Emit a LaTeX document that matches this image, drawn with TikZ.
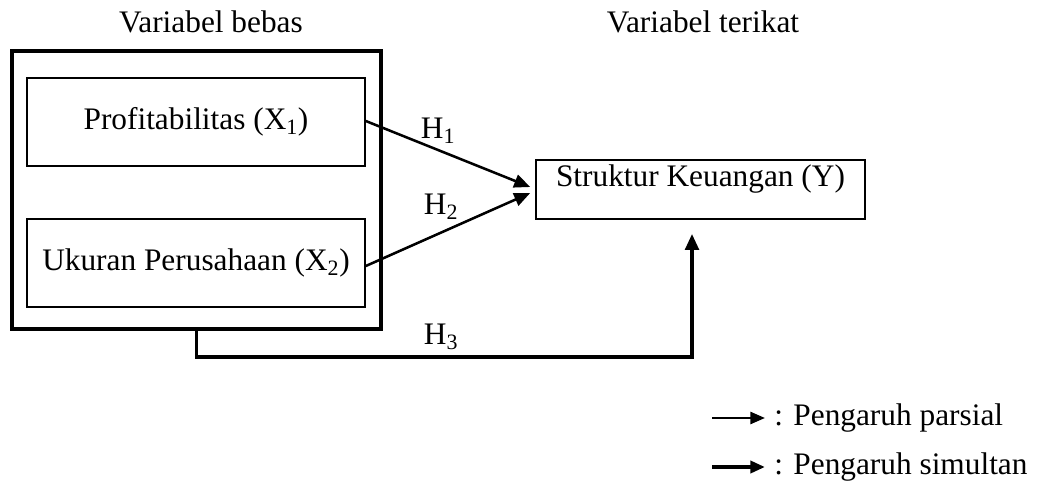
\documentclass[tikz,border=0pt]{standalone}
\usepackage{fontspec}
\setmainfont{Liberation Serif}
\usetikzlibrary{arrows.meta,calc}
\begin{document}
\begin{tikzpicture}[x=0.75pt,y=-0.75pt,
  every node/.style={font=\fontsize{23.5}{28}\selectfont},
  thinbox/.style={draw, line width=1.2pt, inner sep=0pt},
  thickbox/.style={draw, line width=3pt, inner sep=0pt},
  partial/.style={line width=1.9pt, -{Triangle[length=12pt,width=10pt]}},
  simul/.style={line width=2.8pt, -{Triangle[length=12pt,width=10pt]}},
  legpartial/.style={line width=1.9pt, -{Triangle[length=11pt,width=9pt]}},
  legsimul/.style={line width=2.8pt, -{Triangle[length=11pt,width=9pt]}},
  lbl/.style={inner sep=0pt}]
\useasboundingbox (0,0) rectangle (1060,489);
\node[lbl] (vb) at (211,22) {Variabel bebas};
\node[lbl] (vt) at (703,22) {Variabel terikat};
\node[thickbox, minimum width=276.75pt, minimum height=208.5pt] (outer) at (196.5,190) {};
\node[thinbox, minimum width=253.5pt, minimum height=66pt] (x1) at (196,122) {Profitabilitas (X\textsubscript{1})};
\node[thinbox, minimum width=253.5pt, minimum height=66pt] (x2) at (196,263) {Ukuran Perusahaan (X\textsubscript{2})};
\node[thinbox, minimum width=246.75pt, minimum height=44.25pt, text depth=21pt] (y) at (700.5,189.5) {Struktur Keuangan (Y)};
\coordinate (t1) at ($(y.west)+(-5,-2.5)$);
\coordinate (t2) at ($(y.west)+(-5,3.5)$);
\draw[partial] ($(x1.east)+(0,-1)$) -- (t1);
\draw[partial] ($(x2.east)+(0,3)$) -- (t2);
\coordinate (s1) at ($(y.south)+(-8.5,14)$);
\draw[simul] (outer.south) -- ++(0,26) -| (s1);
\node[lbl] (h1) at (438,131) {H\textsubscript{1}};
\node[lbl] (h2) at (441,207) {H\textsubscript{2}};
\node[lbl] (h3) at (441,337) {H\textsubscript{3}};
\coordinate (la) at (712,418);
\coordinate (lb) at (765,418);
\coordinate (lc) at (712,467);
\coordinate (ld) at (765,467);
\draw[legpartial] (la) -- (lb);
\draw[legsimul] (lc) -- (ld);
\node[lbl, anchor=west] (lp) at (774,418) {: Pengaruh parsial};
\node[lbl, anchor=west] (ls) at (774,467) {: Pengaruh simultan};
\end{tikzpicture}
\end{document}
